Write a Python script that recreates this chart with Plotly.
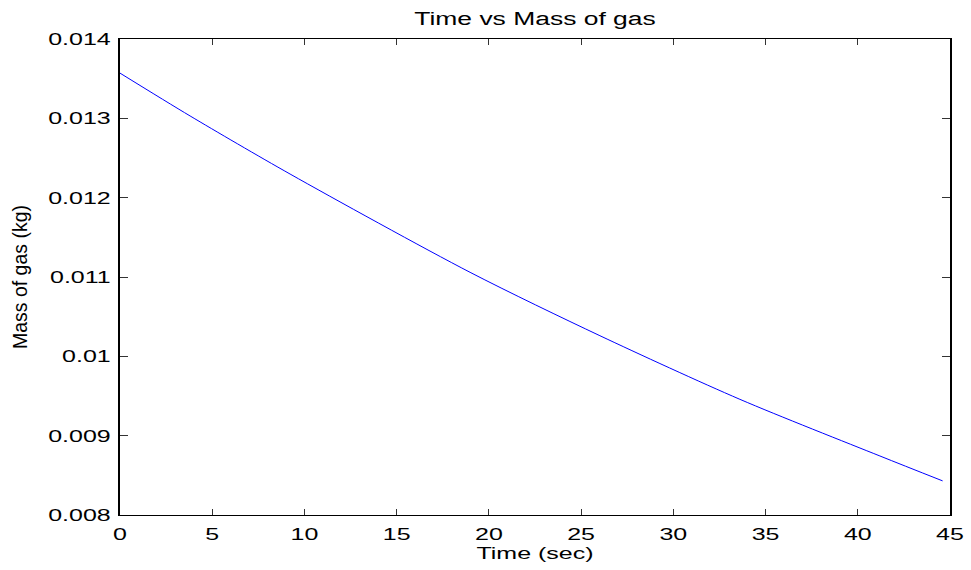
import plotly.graph_objects as go

time_sec = [0, 3.8, 9.22, 18.98, 26.02, 33.61, 41.2, 44.6]
mass_kg = [0.01357, 0.01303, 0.012298, 0.011059, 0.01026, 0.009458, 0.008744, 0.00843]

x_ticks = [0, 5, 10, 15, 20, 25, 30, 35, 40, 45]
y_ticks = [0.008, 0.009, 0.010, 0.011, 0.012, 0.013, 0.014]
y_tick_labels = ["0.008", "0.009", "0.01", "0.011", "0.012", "0.013", "0.014"]

fig = go.Figure()
fig.add_trace(go.Scatter(x=time_sec, y=mass_kg, mode="lines",
                         line=dict(color="#0000ff", width=1, shape="spline", smoothing=0.8),
                         showlegend=False))

font_family = "Liberation Sans, Arial, sans-serif"
tickfont = dict(family=font_family, size=17, color="black")

fig.update_layout(
    width=971, height=570,
    margin=dict(l=120, r=21, t=39, b=55),
    paper_bgcolor="white", plot_bgcolor="white",
    title=dict(text="Time vs Mass of gas", x=0.551, xanchor="center",
               yref="container", y=1 - 19 / 570, yanchor="middle",
               font=dict(family=font_family, size=18, color="black")),
    xaxis=dict(range=[0, 45], tickvals=x_ticks,
               showline=True, linecolor="black", linewidth=1.2, mirror="ticks",
               ticks="inside", ticklen=6, tickcolor="#333333", tickwidth=1,
               showgrid=False, zeroline=False, tickfont=tickfont,
               ticklabelstandoff=4,
               title=dict(text="Time (sec)", standoff=3,
                          font=dict(family=font_family, size=17, color="black"))),
    yaxis=dict(range=[0.008, 0.014], tickvals=y_ticks, ticktext=y_tick_labels,
               showline=True, linecolor="black", linewidth=1.8, mirror="ticks",
               ticks="inside", ticklen=8, tickcolor="#333333", tickwidth=1,
               showgrid=False, zeroline=False, tickfont=tickfont,
               ticklabelstandoff=4,
               title=dict(text="Mass of gas (kg)", standoff=35,
                          font=dict(family=font_family, size=19.5, color="black"))),
)

# The reference's horizontal text is drawn with wide (horizontally stretched) glyphs; mimic that.
post_script = """
(function(){
  var S = 1.47;
  function stretch(){
    var gd = document.getElementById('{plot_id}');
    if(!gd) return;
    gd.querySelectorAll('svg text').forEach(function(t){
      var cur = t.getAttribute('transform') || '';
      if(cur.indexOf('rotate') >= 0) return;
      if(cur.indexOf('scale(' + S) >= 0) return;
      var x = parseFloat(t.getAttribute('x')) || 0;
      var y = parseFloat(t.getAttribute('y')) || 0;
      t.setAttribute('transform', cur + ' translate(' + x + ',' + y + ') scale(' + S + ',1)' +
                     ' translate(' + (-x) + ',' + (-y) + ')');
    });
  }
  stretch();
  var gd = document.getElementById('{plot_id}');
  if(gd && gd.on){ gd.on('plotly_afterplot', stretch); }
  setTimeout(stretch, 50);
  setTimeout(stretch, 300);
})();
"""

fig.write_html("out.html", post_script=post_script)
